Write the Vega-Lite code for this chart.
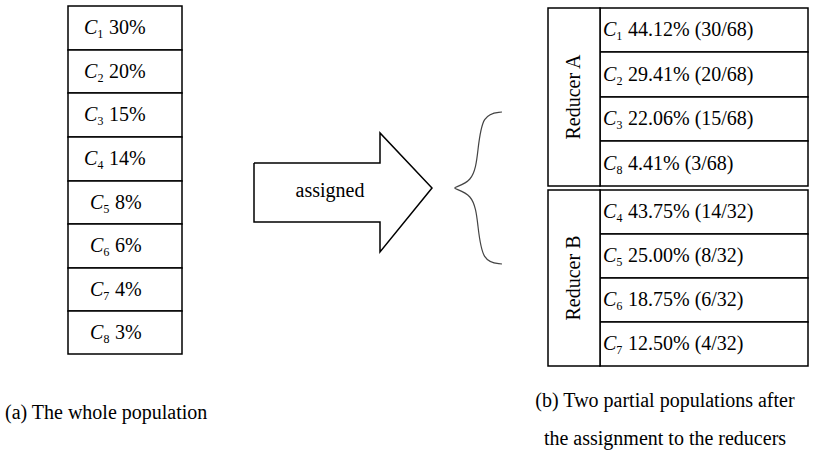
{
  "$schema": "https://vega.github.io/schema/vega-lite/v6.json",
  "width": 838,
  "height": 456,
  "autosize": "none",
  "padding": 0,
  "background": "white",
  "config": {"view": {"stroke": null}, "text": {"font": "Liberation Serif", "fontSize": 20, "color": "black"}},
  "datasets": {
    "cells": [
      {"x1": 68, "x2": 182, "y1": 6, "y2": 50, "c": "C", "rest": "₁ 30%", "cx": 84},
      {"x1": 68, "x2": 182, "y1": 50, "y2": 93, "c": "C", "rest": "₂ 20%", "cx": 84},
      {"x1": 68, "x2": 182, "y1": 93, "y2": 137, "c": "C", "rest": "₃ 15%", "cx": 84},
      {"x1": 68, "x2": 182, "y1": 137, "y2": 181, "c": "C", "rest": "₄ 14%", "cx": 84},
      {"x1": 68, "x2": 182, "y1": 181, "y2": 224, "c": "C", "rest": "₅ 8%", "cx": 90},
      {"x1": 68, "x2": 182, "y1": 224, "y2": 268, "c": "C", "rest": "₆ 6%", "cx": 90},
      {"x1": 68, "x2": 182, "y1": 268, "y2": 311, "c": "C", "rest": "₇ 4%", "cx": 90},
      {"x1": 68, "x2": 182, "y1": 311, "y2": 354, "c": "C", "rest": "₈ 3%", "cx": 90},
      {"x1": 600, "x2": 808, "y1": 8, "y2": 52, "c": "C", "rest": "₁ 44.12% (30/68)", "cx": 603},
      {"x1": 600, "x2": 808, "y1": 52, "y2": 97, "c": "C", "rest": "₂ 29.41% (20/68)", "cx": 603},
      {"x1": 600, "x2": 808, "y1": 97, "y2": 141, "c": "C", "rest": "₃ 22.06% (15/68)", "cx": 603},
      {"x1": 600, "x2": 808, "y1": 141, "y2": 186, "c": "C", "rest": "₈ 4.41% (3/68)", "cx": 603},
      {"x1": 600, "x2": 808, "y1": 190, "y2": 234, "c": "C", "rest": "₄ 43.75% (14/32)", "cx": 603},
      {"x1": 600, "x2": 808, "y1": 234, "y2": 278, "c": "C", "rest": "₅ 25.00% (8/32)", "cx": 603},
      {"x1": 600, "x2": 808, "y1": 278, "y2": 322, "c": "C", "rest": "₆ 18.75% (6/32)", "cx": 603},
      {"x1": 600, "x2": 808, "y1": 322, "y2": 366, "c": "C", "rest": "₇ 12.50% (4/32)", "cx": 603}
    ],
    "groups": [
      {"x1": 548, "x2": 600, "y1": 8, "y2": 186, "label": "Reducer A", "ty": 97},
      {"x1": 548, "x2": 600, "y1": 190, "y2": 366, "label": "Reducer B", "ty": 278}
    ],
    "arrow": [
      {"o": 1, "x": 254, "y": 163}, {"o": 2, "x": 380, "y": 163}, {"o": 3, "x": 380, "y": 133},
      {"o": 4, "x": 432, "y": 188}, {"o": 5, "x": 380, "y": 252}, {"o": 6, "x": 380, "y": 222},
      {"o": 7, "x": 254, "y": 222}, {"o": 8, "x": 254, "y": 163}
    ],
    "brace": [
      {"o": 1, "x": 502, "y": 112}, {"o": 2, "x": 482, "y": 114}, {"o": 3, "x": 478, "y": 150},
      {"o": 4, "x": 474, "y": 184}, {"o": 5, "x": 445, "y": 188}, {"o": 6, "x": 474, "y": 192},
      {"o": 7, "x": 478, "y": 226}, {"o": 8, "x": 482, "y": 262}, {"o": 9, "x": 502, "y": 264}
    ],
    "captionsLeft": [
      {"x": 5, "y": 413, "t": "(a)  The whole population"}
    ],
    "captionsCenter": [
      {"x": 665, "y": 401, "t": "(b) Two partial populations after"},
      {"x": 665, "y": 439, "t": "the assignment to the reducers"},
      {"x": 330, "y": 191, "t": "assigned"}
    ]
  },
  "layer": [
    {
      "data": {"name": "cells"},
      "mark": {"type": "rect", "fill": "white", "stroke": "black", "strokeWidth": 1.5},
      "encoding": {
        "x": {"field": "x1", "type": "quantitative", "scale": {"domain": [0, 838], "nice": false, "zero": false}, "axis": null},
        "x2": {"field": "x2"},
        "y": {"field": "y1", "type": "quantitative", "scale": {"domain": [456, 0], "nice": false, "zero": false}, "axis": null},
        "y2": {"field": "y2"}
      }
    },
    {
      "data": {"name": "groups"},
      "mark": {"type": "rect", "fill": "white", "stroke": "black", "strokeWidth": 1.5},
      "encoding": {
        "x": {"field": "x1", "type": "quantitative"},
        "x2": {"field": "x2"},
        "y": {"field": "y1", "type": "quantitative"},
        "y2": {"field": "y2"}
      }
    },
    {
      "data": {"name": "groups"},
      "mark": {"type": "text", "angle": 270, "align": "center", "baseline": "middle"},
      "encoding": {
        "x": {"datum": 574, "type": "quantitative"},
        "y": {"field": "ty", "type": "quantitative"},
        "text": {"field": "label"}
      }
    },
    {
      "data": {"name": "cells"},
      "transform": [{"calculate": "(datum.y1 + datum.y2) / 2", "as": "ym"}],
      "mark": {"type": "text", "align": "left", "baseline": "middle", "fontStyle": "italic"},
      "encoding": {
        "x": {"field": "cx", "type": "quantitative"},
        "y": {"field": "ym", "type": "quantitative"},
        "text": {"field": "c"}
      }
    },
    {
      "data": {"name": "cells"},
      "transform": [{"calculate": "(datum.y1 + datum.y2) / 2", "as": "ym"}],
      "mark": {"type": "text", "align": "left", "baseline": "middle", "dx": 13},
      "encoding": {
        "x": {"field": "cx", "type": "quantitative"},
        "y": {"field": "ym", "type": "quantitative"},
        "text": {"field": "rest"}
      }
    },
    {
      "data": {"name": "arrow"},
      "mark": {"type": "line", "color": "black", "strokeWidth": 1.5},
      "encoding": {
        "x": {"field": "x", "type": "quantitative"},
        "y": {"field": "y", "type": "quantitative"},
        "order": {"field": "o"}
      }
    },
    {
      "data": {"name": "brace"},
      "mark": {"type": "line", "color": "#444", "strokeWidth": 1.2, "interpolate": "basis"},
      "encoding": {
        "x": {"field": "x", "type": "quantitative"},
        "y": {"field": "y", "type": "quantitative"},
        "order": {"field": "o"}
      }
    },
    {
      "data": {"name": "captionsLeft"},
      "mark": {"type": "text", "baseline": "middle", "align": "left"},
      "encoding": {
        "x": {"field": "x", "type": "quantitative"},
        "y": {"field": "y", "type": "quantitative"},
        "text": {"field": "t"}
      }
    },
    {
      "data": {"name": "captionsCenter"},
      "mark": {"type": "text", "baseline": "middle", "align": "center"},
      "encoding": {
        "x": {"field": "x", "type": "quantitative"},
        "y": {"field": "y", "type": "quantitative"},
        "text": {"field": "t"}
      }
    }
  ]
}
